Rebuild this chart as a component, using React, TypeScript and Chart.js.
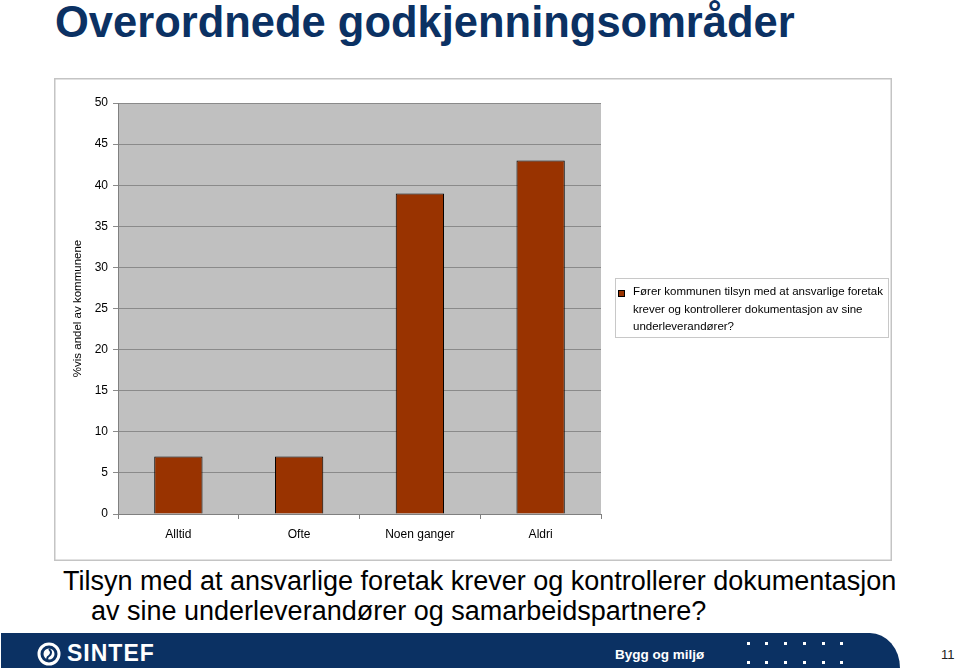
import React, { useEffect, useRef } from "react";
import { Chart, registerables } from "chart.js";

Chart.register(...registerables);

const categories = ["Alltid", "Ofte", "Noen ganger", "Aldri"];
const values = [7, 7, 39, 43];
const legendLines = [
  "Fører kommunen tilsyn med at ansvarlige foretak",
  "krever og kontrollerer dokumentasjon av sine",
  "underleverandører?",
];
const yTitle = "%vis andel av kommunene";
const yMin = 0;
const yMax = 50;
const yStep = 5;

const FONT = '"Liberation Sans", Arial, sans-serif';
const NAVY = "#0b3163";
const BAR = "#993300";

const decorPlugin = {
  id: "decor",
  beforeDraw(chart: any) {
    const { ctx, chartArea, width, height } = chart;
    ctx.save();
    ctx.fillStyle = "#ffffff";
    ctx.fillRect(0, 0, width, height);
    ctx.fillStyle = "#c0c0c0";
    ctx.fillRect(chartArea.left, chartArea.top, chartArea.right - chartArea.left, chartArea.bottom - chartArea.top);
    ctx.strokeStyle = "#c4c4c4";
    ctx.lineWidth = 1.5;
    ctx.strokeRect(0.75, 0.75, width - 1.5, height - 1.5);
    ctx.restore();
  },
  afterDraw(chart: any) {
    const { ctx, chartArea } = chart;
    ctx.save();
    // y axis title
    ctx.translate(24, (chartArea.top + chartArea.bottom) / 2);
    ctx.rotate(-Math.PI / 2);
    ctx.fillStyle = "#000";
    ctx.font = `11.5px ${FONT}`;
    ctx.textAlign = "center";
    ctx.textBaseline = "middle";
    ctx.fillText(yTitle, 0, 0);
    ctx.restore();

    // legend
    ctx.save();
    const bx = 561, by = 200, bw = 273, bh = 59;
    ctx.strokeStyle = "#c8c8c8";
    ctx.lineWidth = 1;
    ctx.strokeRect(bx + 0.5, by + 0.5, bw, bh);
    ctx.fillStyle = BAR;
    ctx.fillRect(564, 212, 7, 7);
    ctx.strokeStyle = "#000";
    ctx.strokeRect(564.5, 212.5, 6, 6);
    ctx.fillStyle = "#000";
    ctx.font = `11.5px ${FONT}`;
    ctx.textAlign = "left";
    ctx.textBaseline = "middle";
    legendLines.forEach((l, i) => {
      ctx.fillText(l, 579, 214 + i * 17.5);
    });
    ctx.restore();
  },
};

function ChartBox() {
  const ref = useRef<HTMLCanvasElement | null>(null);
  useEffect(() => {
    if (!ref.current) return;
    const chart = new Chart(ref.current, {
      type: "bar",
      data: {
        labels: categories,
        datasets: [
          {
            label: legendLines.join(" "),
            data: values,
            backgroundColor: BAR,
            borderColor: "#000",
            borderWidth: 1,
            barPercentage: 0.4,
            categoryPercentage: 1.0,
          },
        ],
      },
      options: {
        animation: false,
        responsive: false,
        maintainAspectRatio: false,
        layout: { padding: { left: 0, top: 25, right: 291, bottom: 0 } },
        plugins: { legend: { display: false }, tooltip: { enabled: false } },
        scales: {
          x: {
            offset: true,
            grid: { offset: true, drawOnChartArea: false, drawTicks: true, tickLength: 5, color: "#808080" },
            border: { color: "#808080" },
            ticks: { color: "#000", font: { size: 12, family: FONT }, padding: 8, maxRotation: 0 },
            afterFit: (s: any) => { s.height = 47; },
          },
          y: {
            min: yMin,
            max: yMax,
            ticks: { stepSize: yStep, color: "#000", font: { size: 12, family: FONT }, padding: 5 },
            grid: { color: "#8a8a8a", tickLength: 5, drawTicks: true },
            border: { color: "#808080" },
            afterFit: (s: any) => { s.width = 64; },
          },
        },
      },
      plugins: [decorPlugin],
    });
    return () => chart.destroy();
  }, []);
  return <canvas ref={ref} width={838} height={483} style={{ display: "block", width: 838, height: 483 }} />;
}

export default function App() {
  const dotsX = [747, 765, 784, 803, 822, 840];
  const dotsY = [642, 661];
  return (
    <div style={{ position: "absolute", left: 0, top: 0, width: 960, height: 672, background: "#fff", overflow: "hidden", fontFamily: FONT }}>
      <div style={{ position: "absolute", left: 55, top: 0, fontSize: 43.5, lineHeight: "44px", fontWeight: 700, color: NAVY, whiteSpace: "nowrap" }}>
        Overordnede godkjenningsområder
      </div>
      <div style={{ position: "absolute", left: 54, top: 78 }}>
        <ChartBox />
      </div>
      <div style={{ position: "absolute", left: 63, top: 566, fontSize: 27, lineHeight: "30px", color: "#000", whiteSpace: "nowrap" }}>
        Tilsyn med at ansvarlige foretak krever og kontrollerer dokumentasjon
      </div>
      <div style={{ position: "absolute", left: 91, top: 596, fontSize: 27, lineHeight: "30px", color: "#000", whiteSpace: "nowrap" }}>
        av sine underleverandører og samarbeidspartnere?
      </div>
      <div style={{ position: "absolute", left: 1, top: 633, width: 899, height: 35, background: NAVY, borderTopRightRadius: "30px 35px" }} />
      <svg style={{ position: "absolute", left: 0, top: 633 }} width={960} height={39}>
        <circle cx={49} cy={21} r={10} fill="none" stroke="#fff" strokeWidth={3} />
        <circle cx={49} cy={21} r={5.5} fill="#fff" />
        <path d="M49 16 Q53 20 49 23 Q46 25 48 28" fill="none" stroke={NAVY} strokeWidth={2} />
      </svg>
      <div style={{ position: "absolute", left: 67, top: 640, fontSize: 23, lineHeight: "26px", fontWeight: 900, color: "#fff", letterSpacing: 1 }}>
        SINTEF
      </div>
      <div style={{ position: "absolute", left: 615, top: 646, fontSize: 13.5, lineHeight: "18px", fontWeight: 700, color: "#fff" }}>
        Bygg og miljø
      </div>
      {dotsY.map((y) =>
        dotsX.map((x) => (
          <div key={`${x}-${y}`} style={{ position: "absolute", left: x, top: y, width: 3, height: 3, background: "#fff" }} />
        ))
      )}
      <div style={{ position: "absolute", left: 941, top: 647, fontSize: 13, lineHeight: "16px", color: "#222" }}>11</div>
    </div>
  );
}
